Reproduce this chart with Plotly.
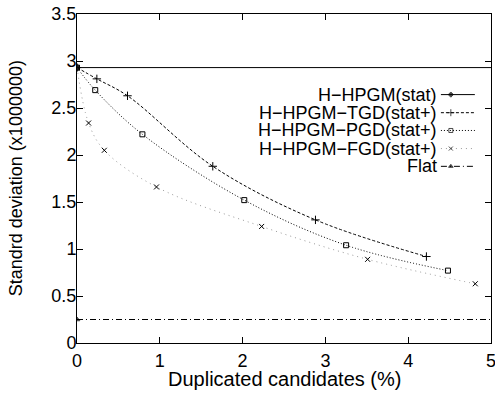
import plotly.graph_objects as go

# ---- data ----
stat_x = [0, 5]
stat_y = [2.93, 2.93]
tgd_x = [0, 0.24, 0.61, 1.64, 2.88, 4.22]
tgd_y = [2.93, 2.81, 2.63, 1.88, 1.31, 0.92]
pgd_x = [0, 0.22, 0.79, 2.02, 3.25, 4.48]
pgd_y = [2.93, 2.69, 2.22, 1.52, 1.04, 0.77]
fgd_x = [0, 0.14, 0.33, 0.96, 2.23, 3.51, 4.81]
fgd_y = [2.93, 2.34, 2.05, 1.66, 1.24, 0.89, 0.63]
flat_x = [0, 5]
flat_y = [0.25, 0.25]
names = ["H\u2212HPGM(stat)", "H\u2212HPGM\u2212TGD(stat+)", "H\u2212HPGM\u2212PGD(stat+)",
         "H\u2212HPGM\u2212FGD(stat+)", "Flat"]
x_ticks = [0, 1, 2, 3, 4, 5]
y_ticks = [0, 0.5, 1, 1.5, 2, 2.5, 3, 3.5]
x_title = "Duplicated candidates (%)"
y_title = "Standrd deviation (x1000000)"

FONT = "Liberation Sans, Arial, sans-serif"
styles = [
    dict(color="black", dash="solid", width=1, symbol="diamond", msize=5),
    dict(color="black", dash="3px,2px", width=1, symbol="cross-thin", msize=6),
    dict(color="black", dash="1px,2px", width=1, symbol="square-open", msize=5),
    dict(color="#999999", dash="1px,4px", width=1, symbol="x-thin", msize=5),
    dict(color="black", dash="6px,3px,1px,3px", width=1, symbol="triangle-up", msize=5),
]

fig = go.Figure()

series = [(stat_x, stat_y, "linear", True),
          (tgd_x, tgd_y, "spline", False),
          (pgd_x, pgd_y, "spline", False),
          (fgd_x, fgd_y, "spline", False),
          (flat_x, flat_y, "linear", True)]

for (xs, ys, shape, first_only), st in zip(series, styles):
    sizes = [st["msize"]] + [0] * (len(xs) - 1) if first_only else st["msize"]
    fig.add_trace(go.Scatter(
        x=xs, y=ys, mode="lines+markers", line_shape=shape,
        line=dict(color=st["color"], dash=st["dash"], width=st["width"]),
        marker=dict(symbol=st["symbol"], size=sizes, color="black",
                    line=dict(color="black", width=1)),
        showlegend=False, hoverinfo="skip"))

# ---- custom right-aligned legend (key on the right of the text) ----
leg_rows = [0.755, 0.700, 0.646, 0.591, 0.537]
kx0, kx1, kxm = 0.879, 0.961, 0.903
for name, yy, st in zip(names, leg_rows, styles):
    fig.add_trace(go.Scatter(
        x=[kx0, kxm, kx1], y=[yy, yy, yy], mode="lines+markers", xaxis="x2", yaxis="y2",
        line=dict(color=st["color"], dash=st["dash"], width=st["width"]),
        marker=dict(symbol=st["symbol"], size=[0, st["msize"] - 1, 0], color="black",
                    line=dict(color="black", width=1)),
        showlegend=False, hoverinfo="skip"))
    fig.add_annotation(x=0.874, y=yy, xref="x2", yref="y2", text=name, showarrow=False,
                       xanchor="right", yanchor="middle",
                       font=dict(family=FONT, size=18, color="black"))

# axis titles
fig.add_annotation(x=0.5, y=-0.109, xref="paper", yref="paper", text=x_title,
                   showarrow=False, xanchor="center", yanchor="middle",
                   font=dict(family=FONT, size=20, color="black"))
fig.add_annotation(x=-0.148, y=0.5, xref="paper", yref="paper", text=y_title,
                   showarrow=False, xanchor="center", yanchor="middle", textangle=-90,
                   font=dict(family=FONT, size=18, color="black"))

axis_common = dict(showgrid=False, zeroline=False, showline=True, linecolor="black",
                   linewidth=1, mirror="ticks", ticks="inside", ticklen=6,
                   tickcolor="black", automargin=False, ticklabeloverflow="allow",
                   tickfont=dict(family=FONT, size=18, color="black"))

fig.update_layout(
    width=495, height=393,
    margin=dict(l=77, r=4, t=14, b=50),
    paper_bgcolor="white", plot_bgcolor="white",
    xaxis=dict(range=[0, 5], tickvals=x_ticks, ticktext=[str(v) for v in x_ticks],
               ticklabelstandoff=1, **axis_common),
    yaxis=dict(range=[0, 3.5], tickvals=y_ticks, ticktext=[f"{v:g}" for v in y_ticks],
               ticklabelstandoff=-4, **axis_common),
    xaxis2=dict(range=[0, 1], overlaying="x", visible=False, fixedrange=True),
    yaxis2=dict(range=[0, 1], overlaying="y", visible=False, fixedrange=True),
)

# remove the browser's default 8px page margin so the figure fills the window
fig.write_html("out.html", config={"displayModeBar": False},
               post_script="document.body.style.margin='0px';")
